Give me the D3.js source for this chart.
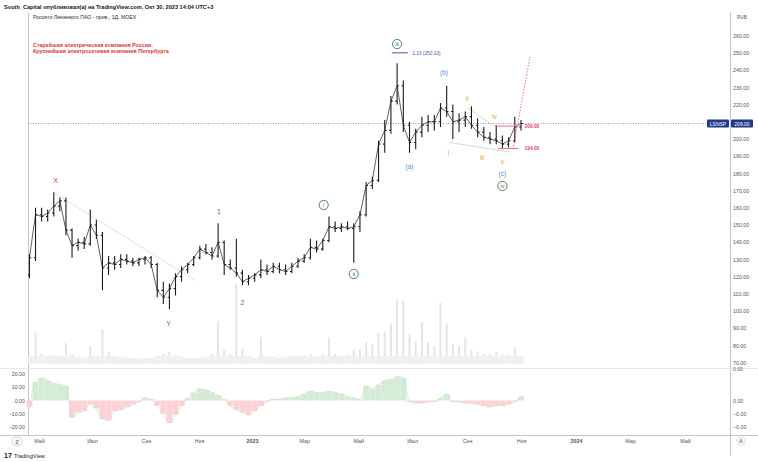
<!DOCTYPE html>
<html lang="ru">
<head>
<meta charset="UTF-8">
<title>Россети Ленэнерго ПАО - прив., 1Д, MOEX</title>
<script src="https://cdn.jsdelivr.net/npm/d3@7"></script>
<style>
  body { margin: 0; background: #fff; }
  svg text { font-family: "Liberation Sans", Arial, sans-serif; }
  .ax text { font-size: 5.3px; fill: #50535e; }
  .ax .domain { display: none; }
</style>
</head>
<body>
<script>
// weekly bars, first Monday of the series
const firstWeek = "2022-04-18";

const open = [121,131,156,155,157,161,164,147,138,140, 139,150,144,125,128,127,130,129,128,130,
  131,127,112,108,113,120,124,127,131,136, 134,132,140,127,125,122,117,119,121,124,
  123,126,124,123,126,129,131,137,136,141, 149,148,149,148,149,156,173,176,197,205,
  222,231,208,198,204,208,210,210,218,216, 210,211,213,208,204,201,200,199,197,199, 207];
const high = [133,160,160,159,169,166,166,148,142,143, 159,153,146,132,132,133,133,131,131,132,
  132,128,117,116,122,126,128,132,138,139, 137,151,141,130,142,124,121,122,130,127,
  128,128,127,128,131,133,142,141,142,155, 152,151,152,151,158,175,178,199,211,225,
  244,234,210,206,213,214,214,221,231,220, 215,216,219,212,207,204,208,202,201,213, 211];
const low = [119,129,152,152,155,158,144,131,135,136, 138,142,112,121,124,125,127,126,126,127,
  125,108,104,101,109,117,122,126,130,133, 130,131,121,124,120,115,115,117,119,121,
  122,122,121,122,125,128,130,134,135,140, 146,146,147,128,146,155,171,175,192,203,
  220,204,192,194,201,204,205,207,213,200, 204,207,206,201,199,197,197,194,195,198, 205];
const close = [131,156,155,157,161,164,147,138,140,139, 150,144,125,128,127,130,129,128,130,131,
  127,112,108,113,120,124,127,131,136,134, 132,140,127,125,122,117,119,121,124,123,
  126,124,123,126,129,131,137,136,141,149, 148,149,148,149,156,173,176,197,205,222,
  231,208,198,204,208,210,210,218,216,210, 211,213,208,204,201,200,199,197,199,207, 209];
const volume = [8,31,10,8,9,8,21,10,7,6, 18,8,35,12,8,7,6,6,5,6,
  6,8,10,12,9,7,6,6,6,7, 10,43,14,10,80,15,8,6,27,8,
  7,6,7,8,8,9,10,8,10,27, 10,8,9,14,14,22,20,31,32,40,
  65,63,30,22,42,22,18,61,40,20, 18,27,14,12,10,10,12,9,9,17, 8];
const osc = [-5,14,17,15,13,12,11,-13,-9,-8, -3,-6,-14,-15,-8,-7,-5,-3,-1,2,
  1,-4,-10,-17,-11,-4,2,6,9,8, 6,4,1,-4,-7,-9,-11,-8,-4,-1,
  1,1,2,2,3,5,7,6,6,7, 6,5,3,2,1,11,9,12,15,16,
  18,17,-1,-2,-2,-1,-1,2,5,-1, -1,-2,-2,-3,-4,-5,-4,-4,-3,-1, 3];

const priceTicks = [70,80,90,100,110,120,130,140,150,160,170,180,190,200,210,220,230,240,250,260];
const oscTicks = [20,10,0,-10,-20];
const oscRightTicks = [0,-10,-20];
const oscRightNames = ["0.00","−0.00","−0.00"];
const monthTicks = ["2022-05-01","2022-07-01","2022-09-01","2022-11-01","2023-01-01","2023-03-01",
  "2023-05-01","2023-07-01","2023-09-01","2023-11-01","2024-01-01","2024-03-01","2024-05-01"];
const monthNames = ["Май","Июл","Сен","Ноя","2023","Мар","Май","Июл","Сен","Ноя","2024","Мар","Май"];

// wave labels: [text, date, price]
const wxyLabels = [["X","2022-05-20",175.6],["Y","2022-09-27",93],["1","2022-11-24",157.6],["2","2022-12-21",105.2]];
const circledLabels = [["i","2023-03-23",161.6],["ii","2023-04-26",121.5],["iii","2023-06-14",255.2],["iv","2023-10-11",172.7]];
const abcLabels = [["(a)","2023-06-28",184.3],["(b)","2023-08-06",238.4],["(c)","2023-10-11",180.2]];
const minorLabels = [["i","2023-08-11",192.4],["ii","2023-09-01",223.8],["iii","2023-09-18",189],["iv","2023-10-02",212.8],["v","2023-10-11",187.2]];

const trendX = [["2022-05-19",168.6],["2022-10-27",118]];
const triUpper = [["2023-09-02",218],["2023-09-30",208]];
const triLower = [["2023-08-12",198],["2023-10-20",192.4]];
const fibLine = [["2023-06-08",250.1],["2023-06-26",250.1]];
const fibText = ["2023-07-01", 250.1, "1.13 (250.10)"];
const projection = [["2023-10-23",194],["2023-11-11",247.7]];
const levels = [["2023-10-02","2023-10-29",207.5,"209.00"],["2023-10-06","2023-10-29",194.5,"194.00"]];
const levelTextDate = "2023-11-05";

const W = 758, H = 462;
const parse = d3.timeParse("%Y-%m-%d");
const start = parse(firstWeek);
const weeks = d3.timeMonday.range(start, d3.timeDay.offset(start, 7 * close.length));
const bars = weeks.map((w, i) => ({
  date: d3.timeDay.offset(w, 2), o: open[i], h: high[i], l: low[i], c: close[i], v: volume[i], osc: osc[i]
}));

const x = d3.scaleTime()
  .domain(["2022-05-01","2023-01-01","2023-11-01","2024-05-01"].map(parse))
  .range([39, 252, 521, 685]);
const y = d3.scaleLinear().domain([70, 260]).range([362.6, 35.8]);
const yv = d3.scaleLinear().domain([0, 100]).range([364, 264]);
const yo = d3.scaleLinear().domain([-20, 20]).range([427, 374]);

const svg = d3.select("body").append("svg").attr("width", W).attr("height", H);

svg.append("defs").append("clipPath").attr("id", "pane")
  .append("rect").attr("x", 28).attr("y", 13).attr("width", 702).attr("height", 355);

// header
svg.append("text").attr("x", 4).attr("y", 8.5)
  .style("font-size", "5.6px").style("font-weight", "bold").attr("fill", "#131722")
  .text("South_Capital опубликовал(а) на TradingView.com, Окт 30, 2023 14:04 UTC+3");

// frame
const frame = svg.append("g").attr("stroke", "#b2b5be").attr("stroke-width", 0.8);
frame.append("line").attr("x1", 28.5).attr("x2", 28.5).attr("y1", 13).attr("y2", 435);
frame.append("line").attr("x1", 730.5).attr("x2", 730.5).attr("y1", 12).attr("y2", 456);
frame.append("line").attr("x1", 0).attr("x2", W).attr("y1", 435.5).attr("y2", 435.5);
svg.append("line").attr("x1", 0).attr("x2", W).attr("y1", 368.5).attr("y2", 368.5)
  .attr("stroke", "#e0e3eb").attr("stroke-width", 0.8);

const pane = svg.append("g").attr("clip-path", "url(#pane)");

// volume
pane.append("g").selectAll("rect").data(bars).join("rect")
  .attr("x", d => x(d.date) - 1).attr("width", 2)
  .attr("y", d => yv(d.v)).attr("height", d => yv(0) - yv(d.v))
  .attr("fill", "#e4e5eb");
pane.append("g").selectAll("rect").data(bars).join("rect")
  .attr("x", d => x(d.date) - 3).attr("width", 6.2)
  .attr("y", d => yv(Math.min(d.v, 8))).attr("height", d => yv(0) - yv(Math.min(d.v, 8)))
  .attr("fill", "#eef0f3");

// price line
const last = bars[bars.length - 1];
pane.append("line").attr("x1", 28).attr("x2", 730)
  .attr("y1", y(last.c)).attr("y2", y(last.c))
  .attr("stroke", "#6f7fc9").attr("stroke-width", 0.8).attr("stroke-dasharray", "1,1.5");

const seg = pts => d3.line().x(p => x(parse(p[0]))).y(p => y(p[1]))(pts);

pane.append("path").attr("d", seg(trendX)).attr("stroke", "#d6d8de").attr("stroke-width", 0.8).attr("fill", "none");
pane.append("path").attr("d", seg(triUpper)).attr("stroke", "#b9dcb9").attr("stroke-width", 0.8).attr("fill", "none");
pane.append("path").attr("d", seg(triLower)).attr("stroke", "#b9dcb9").attr("stroke-width", 0.8).attr("fill", "none");

// OHLC bars, with the close path joining them
pane.append("path")
  .attr("d", d3.line().x(d => x(d.date)).y(d => y(d.c))(bars))
  .attr("fill", "none").attr("stroke", "#3a3a3a").attr("stroke-width", 0.8);
const ohlc = pane.append("g").attr("stroke", "#1c1c1c").attr("stroke-width", 1.1);
ohlc.selectAll("path").data(bars).join("path")
  .attr("d", d => {
    const cx = x(d.date);
    return `M${cx},${y(d.h)}V${y(d.l)}M${cx - 1.8},${y(d.o)}H${cx}M${cx},${y(d.c)}H${cx + 1.8}`;
  });

// fib level
pane.append("path").attr("d", seg(fibLine)).attr("stroke", "#3d5ab0").attr("stroke-width", 1);
pane.append("text").attr("x", x(parse(fibText[0]))).attr("y", y(fibText[1]) + 1.8)
  .style("font-size", "4.8px").attr("fill", "#3d5ab0").text(fibText[2]);

// red levels and projection
levels.forEach(l => {
  pane.append("line").attr("x1", x(parse(l[0]))).attr("x2", x(parse(l[1])))
    .attr("y1", y(l[2])).attr("y2", y(l[2])).attr("stroke", "#e57373").attr("stroke-width", 1);
  pane.append("text").attr("x", x(parse(levelTextDate))).attr("y", y(l[2]) + 1.8)
    .style("font-size", "4.8px").style("font-weight", "bold").attr("fill", "#d9465a").text(l[3]);
});
pane.append("path").attr("d", seg(projection)).attr("stroke", "#e06478").attr("stroke-width", 0.9)
  .attr("stroke-dasharray", "1.5,1.5").attr("fill", "none");

// wave labels
const lab = (arr, col, size) => pane.append("g").selectAll("text").data(arr).join("text")
  .attr("x", d => x(parse(d[1]))).attr("y", d => y(d[2]))
  .attr("text-anchor", "middle").attr("dominant-baseline", "central")
  .style("font-size", size).attr("fill", col).text(d => d[0]);
lab(wxyLabels, "#b8406a", "7px");
lab(abcLabels, "#5b8fd0", "6.5px");
lab(minorLabels, "#dba24a", "6.5px");
const circ = pane.append("g").selectAll("g").data(circledLabels).join("g")
  .attr("transform", d => `translate(${x(parse(d[1]))},${y(d[2])})`);
circ.append("circle").attr("r", 4.6).attr("fill", "#fff").attr("stroke", "#3a7d44").attr("stroke-width", 0.9);
circ.append("text").attr("text-anchor", "middle").attr("dominant-baseline", "central")
  .style("font-size", "5px").attr("fill", "#2f6b39").text(d => d[0]);

// oscillator
svg.append("g").selectAll("rect").data(bars).join("rect")
  .attr("x", d => x(d.date) - 3).attr("width", 6.1)
  .attr("y", d => Math.min(yo(d.osc), yo(0))).attr("height", d => Math.abs(yo(d.osc) - yo(0)))
  .attr("fill", d => d.osc >= 0 ? "#d4ecd5" : "#fbd3d6");
svg.append("path")
  .attr("d", d3.line().x(d => x(d.date)).y(d => yo(d.osc)).curve(d3.curveMonotoneX)(bars))
  .attr("fill", "none").attr("stroke", "#c9dcc9").attr("stroke-width", 0.6);

// axes
const fmt = d3.format(".2f");
svg.append("g").attr("class", "ax").attr("transform", "translate(730,0)")
  .call(d3.axisRight(y).tickValues(priceTicks).tickSize(0).tickPadding(3).tickFormat(fmt));
svg.append("g").attr("class", "ax").attr("transform", "translate(28,0)")
  .call(d3.axisLeft(yo).tickValues(oscTicks).tickSize(0).tickPadding(3).tickFormat(fmt));
svg.append("g").attr("class", "ax").attr("transform", "translate(730,0)")
  .call(d3.axisRight(yo).tickValues(oscRightTicks).tickSize(0).tickPadding(3)
    .tickFormat((d, i) => oscRightNames[i]));
svg.append("text").attr("x", 733).attr("y", 371).style("font-size", "5px").attr("fill", "#50535e").text("0.00");
svg.append("text").attr("x", 737).attr("y", 19).style("font-size", "4.6px").attr("fill", "#50535e").text("RUB");

const tAxis = svg.append("g").attr("class", "ax").attr("transform", "translate(0,435)")
  .call(d3.axisBottom(x).tickValues(monthTicks.map(parse)).tickSize(0).tickPadding(4)
    .tickFormat((d, i) => monthNames[i]));
tAxis.selectAll("text").style("font-weight", (d, i) => /^\d{4}$/.test(monthNames[i]) ? "bold" : null)
  .attr("fill", (d, i) => /^\d{4}$/.test(monthNames[i]) ? "#131722" : "#50535e");

// last price tags
const tagY = y(last.c);
svg.append("rect").attr("x", 707).attr("y", tagY - 4).attr("width", 22).attr("height", 8).attr("rx", 1).attr("fill", "#1e3a8a");
svg.append("text").attr("x", 718).attr("y", tagY).attr("text-anchor", "middle").attr("dominant-baseline", "central")
  .style("font-size", "5px").attr("fill", "#fff").text("LSNSP");
svg.append("rect").attr("x", 731).attr("y", tagY - 4).attr("width", 22).attr("height", 8).attr("rx", 1).attr("fill", "#1e3a8a");
svg.append("text").attr("x", 742).attr("y", tagY).attr("text-anchor", "middle").attr("dominant-baseline", "central")
  .style("font-size", "5px").attr("fill", "#fff").text(fmt(last.c));

// title and notes
svg.append("text").attr("x", 33).attr("y", 19).style("font-size", "5.2px").attr("fill", "#2a2e39")
  .text("Россети Ленэнерго ПАО - прив., 1Д, MOEX");
svg.append("text").attr("x", 33).attr("y", 47).style("font-size", "5.4px").style("font-weight", "bold")
  .attr("fill", "#d33a3a").text("Старейшая электрическая компания России.");
svg.append("text").attr("x", 33).attr("y", 53).style("font-size", "5.4px").style("font-weight", "bold")
  .attr("fill", "#d33a3a").text("Крупнейшая электросетевая компания Петербурга");

// buttons
svg.append("rect").attr("x", 12).attr("y", 437).attr("width", 10).attr("height", 8.5).attr("rx", 2)
  .attr("fill", "#f5f5f7").attr("stroke", "#d1d4dc").attr("stroke-width", 0.6);
svg.append("text").attr("x", 17).attr("y", 441.5).attr("text-anchor", "middle").attr("dominant-baseline", "central")
  .style("font-size", "5px").attr("fill", "#50535e").text("Z");
svg.append("circle").attr("cx", 741).attr("cy", 441).attr("r", 4.3)
  .attr("fill", "#f5f5f7").attr("stroke", "#d1d4dc").attr("stroke-width", 0.6);
svg.append("text").attr("x", 741).attr("y", 441.3).attr("text-anchor", "middle").attr("dominant-baseline", "central")
  .style("font-size", "5px").attr("fill", "#50535e").text("A");

// logo
svg.append("text").attr("x", 4).attr("y", 457.5).style("font-size", "7px").style("font-weight", "900")
  .attr("fill", "#131722").text("17");
svg.append("text").attr("x", 14).attr("y", 457.5).style("font-size", "5.6px")
  .attr("fill", "#131722").text("TradingView");
</script>
</body>
</html>
